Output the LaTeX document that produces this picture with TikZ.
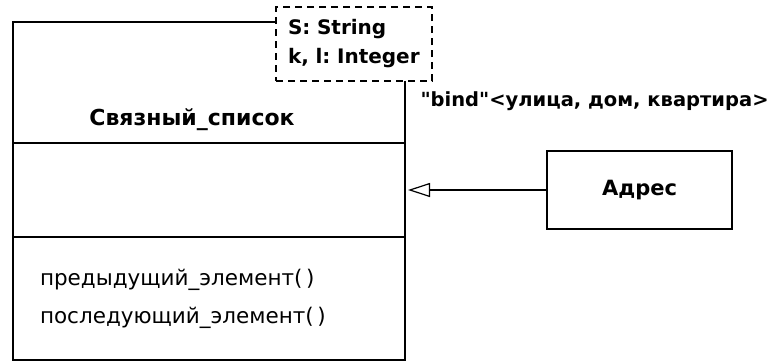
\documentclass[tikz,border=0pt]{standalone}
\usepackage{fontspec}
\setmainfont{DejaVu Sans}[Ligatures=TeXOff]
\usetikzlibrary{positioning,arrows.meta}
\frenchspacing
\tikzset{
  >=stealth,
  compart/.style={rectangle, draw, line width=1.2pt, outer sep=0pt,
    inner sep=0pt, minimum width=392pt},
  classbox/.style={rectangle, draw, line width=1.2pt, outer sep=0pt,
    minimum width=185pt, minimum height=78pt, font=\fontsize{21}{24}\selectfont\bfseries},
  tmpl/.style={rectangle, draw, dashed, dash pattern=on 7pt off 5pt,
    line width=1.2pt, fill=white, outer sep=0pt, minimum width=156pt,
    minimum height=74pt, inner xsep=12pt, text width=132pt, align=left,
    font=\fontsize{20}{29}\selectfont\bfseries},
  bold/.style={font=\fontsize{20}{24}\selectfont\bfseries},
  oper/.style={font=\fontsize{21.5}{38}\selectfont},
}

\begin{document}
\begin{tikzpicture}[x=1pt, y=1pt, node distance=0pt]
  \useasboundingbox[fill=white] (0,0) rectangle (784,-362);
  % class with its three compartments
  \node[compart, minimum height=121pt, anchor=north west] (name) at (13,-22) {};
  \node[compart, minimum height=94pt, below=0pt of name] (attr) {};
  \node[compart, oper, minimum height=123pt, below=0pt of attr,
    inner xsep=27pt, text width=338pt, align=left] (ops)
    {предыдущий\_элемент(\,)\\последующий\_элемент(\,)};
  \node[bold, font=\fontsize{22}{24}\selectfont\bfseries] (cname)
    at ([xshift=-17pt, yshift=-37pt]name.center) {Связный\_список};
  \node[tmpl] (params) at (354,-44) {S: String\\k, l: Integer};
  % bound element
  \node[classbox, right=142pt of attr] (addr) {Адрес};
  \node[bold, font=\fontsize{19.5}{24}\selectfont\bfseries, anchor=west] (bind)
    at (417,-101) {"bind"<улица, дом, квартира>};
  \draw[-{Triangle[open, length=22pt, width=14pt]}, line width=1.2pt,
    shorten >=3pt] (addr) -- (attr);
\end{tikzpicture}
\end{document}
